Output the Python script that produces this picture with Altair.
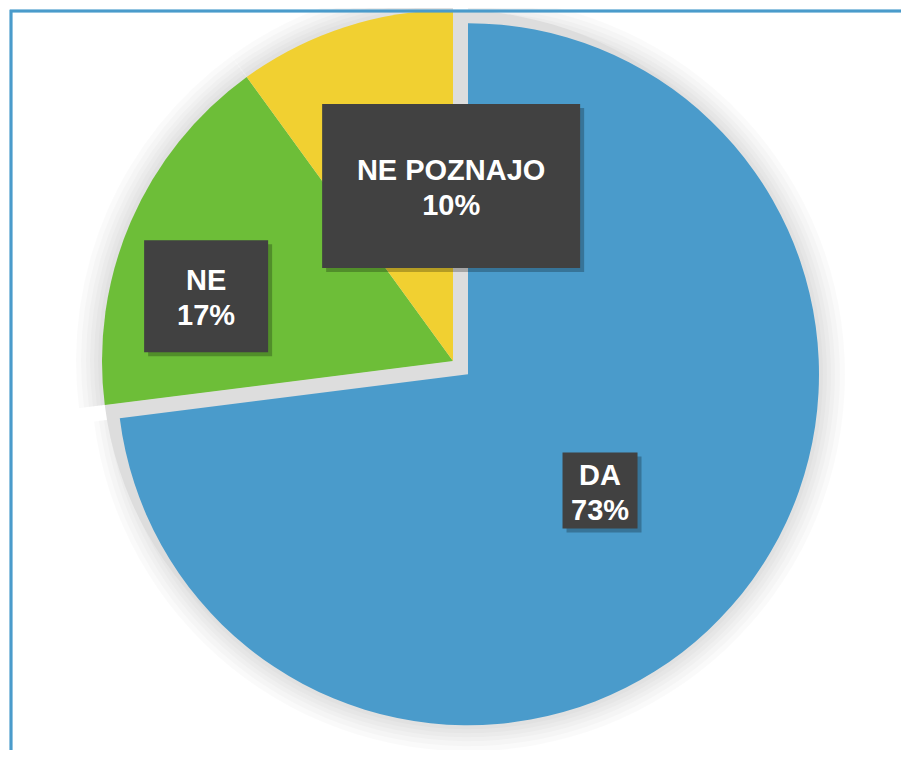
import altair as alt
import pandas as pd

# ---- data ----
categories = ["DA", "NE", "NE POZNAJO"]
values = [73, 17, 10]
pct_labels = ["73%", "17%", "10%"]

# ---- styles ----
colors = ["#4A9BCB", "#6DBE38", "#F1D031"]
explode = {"DA": 20, "NE": 0, "NE POZNAJO": 0}
label_r = {"DA": 176, "NE": 269, "NE POZNAJO": 184}
label_dx = {"DA": 0, "NE": 0, "NE POZNAJO": 55}
label_dy = {"DA": 0, "NE": 42, "NE POZNAJO": 0}
box_w = {"DA": 75, "NE": 124, "NE POZNAJO": 258}
box_h = {"DA": 76, "NE": 112, "NE POZNAJO": 164}
CX, CY, R = 445, 353, 351

df = pd.DataFrame({"cat": categories, "value": values, "pct": pct_labels})
df["order"] = range(len(df))
df["explode"] = df["cat"].map(explode)
df["lr"] = df["cat"].map(label_r)
df["ldx"] = df["cat"].map(label_dx)
df["ldy"] = df["cat"].map(label_dy)
df["bw"] = df["cat"].map(box_w)
df["bh"] = df["cat"].map(box_h)

base = alt.Chart(df).transform_joinaggregate(
    total="sum(value)"
).transform_window(
    cum="sum(value)", sort=[alt.SortField("order")]
).transform_calculate(
    fs="(datum.cum - datum.value) / datum.total",
    fe="datum.cum / datum.total",
).transform_calculate(
    mid="PI * (datum.fs + datum.fe)"
).transform_calculate(
    cx=f"{CX} + datum.explode * sin(datum.mid)",
    cy=f"{CY} - datum.explode * cos(datum.mid)",
    cx0=f"{CX}",
    cy0=f"{CY}",
).transform_calculate(
    lx="datum.cx + datum.lr * sin(datum.mid) + datum.ldx",
    ly="datum.cy - datum.lr * cos(datum.mid) + datum.ldy",
).transform_calculate(
    bx1="datum.lx - datum.bw / 2",
    bx2="datum.lx + datum.bw / 2",
    by1="datum.ly - datum.bh / 2",
    by2="datum.ly + datum.bh / 2",
)

theta_scale = alt.Scale(domain=[0, 1], range=[0, 6.283185307179586])
color_scale = alt.Scale(domain=categories, range=colors)

def arc_enc(ch, xf="cx", yf="cy"):
    return ch.encode(
        theta=alt.Theta("fs:Q", scale=theta_scale),
        theta2="fe:Q",
        x=alt.X(f"{xf}:Q", scale=None),
        y=alt.Y(f"{yf}:Q", scale=None),
    )

layers = []
# soft shadow
for k in [26, 21, 16, 12, 8, 4]:
    layers.append(arc_enc(base.mark_arc(radius=R + k, color="#000000", opacity=0.018)))
# shadow visible in the gaps left by the exploded slice
layers.append(arc_enc(base.mark_arc(radius=R, color="#DDDDDD"), "cx0", "cy0"))

layers.append(arc_enc(base.mark_arc(radius=R)).encode(
    color=alt.Color("cat:N", scale=color_scale, legend=None)
))

# label boxes with shadow
layers.append(base.transform_calculate(
    sx1="datum.bx1 + 4", sx2="datum.bx2 + 4", sy1="datum.by1 + 4", sy2="datum.by2 + 4"
).mark_rect(color="#000000", opacity=0.25).encode(
    x=alt.X("sx1:Q", scale=None), x2="sx2:Q",
    y=alt.Y("sy1:Q", scale=None), y2="sy2:Q",
))
layers.append(base.mark_rect(color="#414141").encode(
    x=alt.X("bx1:Q", scale=None), x2="bx2:Q",
    y=alt.Y("by1:Q", scale=None), y2="by2:Q",
))

txt_style = dict(color="white", font="Liberation Sans", fontWeight="bold",
                 fontSize=29, align="center", baseline="alphabetic")
layers.append(base.mark_text(dy=-6, **txt_style).encode(
    x=alt.X("lx:Q", scale=None), y=alt.Y("ly:Q", scale=None), text="cat:N"
))
layers.append(base.mark_text(dy=29, **txt_style).encode(
    x=alt.X("lx:Q", scale=None), y=alt.Y("ly:Q", scale=None), text="pct:N"
))

# chart border
layers.append(alt.Chart(df).mark_rect(filled=False, stroke="#4A9BCB", strokeWidth=2.5).encode(
    x=alt.value(3), x2=alt.value(1200), y=alt.value(3), y2=alt.value(1200)
))

chart = alt.layer(*layers).properties(
    width=893, height=742, autosize="none", padding=0
).configure_view(stroke=None)

chart.save("out.html", embed_options={"renderer": "svg", "actions": False})
